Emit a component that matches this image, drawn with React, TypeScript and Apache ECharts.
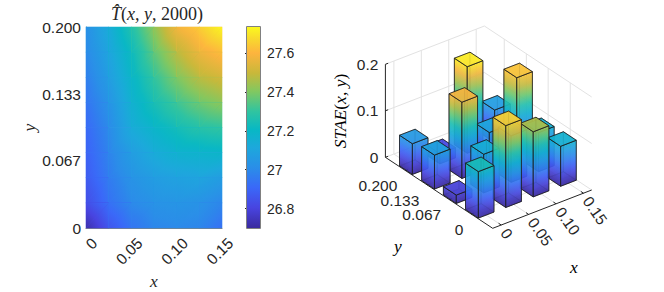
import React, { useEffect, useRef } from "react";
import * as echarts from "echarts";

// ---------- data ----------
const heatX = [0, 0.025, 0.05, 0.075, 0.1, 0.125, 0.15];
const heatY = [0.2, 0.175, 0.15, 0.125, 0.1, 0.075, 0.05, 0.025, 0];
const heatT = [
  [27.02, 27.13, 27.27, 27.42, 27.58, 27.65, 27.73],
  [27.0, 27.1, 27.22, 27.36, 27.48, 27.57, 27.62],
  [26.97, 27.07, 27.19, 27.3, 27.4, 27.48, 27.52],
  [26.94, 27.03, 27.16, 27.25, 27.32, 27.38, 27.42],
  [26.91, 27.0, 27.13, 27.19, 27.24, 27.28, 27.3],
  [26.89, 26.98, 27.07, 27.13, 27.17, 27.18, 27.19],
  [26.87, 26.96, 27.03, 27.07, 27.09, 27.1, 27.07],
  [26.83, 26.93, 27.0, 27.03, 27.04, 27.03, 26.99],
  [26.72, 26.85, 26.94, 26.99, 27.0, 26.99, 26.93],
];
const cbarMin = 26.7;
const cbarMax = 27.735;
const cbarTicks = [26.8, 27, 27.2, 27.4, 27.6];
const xTicks = [0, 0.05, 0.1, 0.15];
const xTickLabels = ["0", "0.05", "0.10", "0.15"];
const yTicks = [0, 0.067, 0.133, 0.2];
const yTickLabels = ["0", "0.067", "0.133", "0.200"];
const zTicks = [0, 0.1, 0.2];
const zTickLabels = ["0", "0.1", "0.2"];
// STAE[row for y][column for x]; rows follow yTicks, columns follow xTicks
const stae = [
  [0.1, 0.176, 0.14, 0.086],
  [0.018, 0.083, 0.1, 0.084],
  [0.073, 0.164, 0.076, 0.171],
  [0.066, 0.022, 0.186, 0.07],
];
const cmapStops: [number, string][] = [
  [0, "#3a2a9e"],
  [0.1, "#4844e0"],
  [0.2, "#3a68f8"],
  [0.3, "#2a8ee8"],
  [0.4, "#1da8dc"],
  [0.49, "#08b8c4"],
  [0.58, "#30c4a0"],
  [0.68, "#82c860"],
  [0.77, "#c8b83a"],
  [0.87, "#fdb43e"],
  [0.94, "#f8d82e"],
  [1, "#fbf91e"],
];

// ---------- helpers ----------
const SANS = "'Liberation Sans', Arial, sans-serif";
const SERIF = "'Liberation Serif', 'Times New Roman', serif";
const INK = "#262626";
const mathRich = {
  i: { fontFamily: SERIF, fontStyle: "italic", fontWeight: "normal", fontSize: 17.5, color: INK },
  n: { fontFamily: SERIF, fontWeight: "normal", fontSize: 17.5, color: INK },
};
const titleRich = {
  i: { ...mathRich.i, fontSize: 18 },
  n: { ...mathRich.n, fontSize: 18 },
};

function hex(c: string) {
  return [1, 3, 5].map((k) => parseInt(c.slice(k, k + 2), 16));
}
function cmap(t: number) {
  const u = Math.max(0, Math.min(1, t));
  for (let k = 1; k < cmapStops.length; k++) {
    if (u <= cmapStops[k][0]) {
      const [p0, c0] = cmapStops[k - 1];
      const [p1, c1] = cmapStops[k];
      const f = (u - p0) / (p1 - p0);
      const a = hex(c0);
      const b = hex(c1);
      return `rgb(${a.map((v, i) => Math.round(v + (b[i] - v) * f)).join(",")})`;
    }
  }
  return cmapStops[cmapStops.length - 1][1];
}
function ramp(t0: number, t1: number, n = 8) {
  const out = [];
  for (let k = 0; k <= n; k++) out.push({ offset: k / n, color: cmap(t0 + ((t1 - t0) * k) / n) });
  return out;
}
const norm = (v: number) => (v - cbarMin) / (cbarMax - cbarMin);

// parallel projection of the 3-D box on the page
const box = {
  F: [492.7, 228.3],
  A: [99, -38.3],
  B: [-107.3, -71],
  zScale: 465,
  xMin: -0.0155,
  xSpan: 0.1805,
  yMin: -0.065,
  ySpan: 0.3252,
  zTop: 0.19,
  barX: 0.0285,
  barY: 0.039,
};
function project(x: number, y: number, z: number): [number, number] {
  const a = (x - box.xMin) / box.xSpan;
  const b = (y - box.yMin) / box.ySpan;
  return [box.F[0] + a * box.A[0] + b * box.B[0], box.F[1] + a * box.A[1] + b * box.B[1] - z * box.zScale];
}

const xEdge = [box.xMin, box.xMin + box.xSpan];
const yEdge = [box.yMin, box.yMin + box.ySpan];

// one triangle of the shaded surface: the colour runs straight between its three corner values
function shadedTriangle(p: number[][], v: number[]) {
  const ux = p[1][0] - p[0][0];
  const uy = p[1][1] - p[0][1];
  const wx = p[2][0] - p[0][0];
  const wy = p[2][1] - p[0][1];
  const det = ux * wy - uy * wx;
  const du = v[1] - v[0];
  const dw = v[2] - v[0];
  const gx = (du * wy - dw * uy) / det;
  const gy = (dw * ux - du * wx) / det;
  const g = Math.hypot(gx, gy) || 1e-6;
  const dx = gx / g;
  const dy = gy / g;
  const along = p.map((q) => (q[0] - p[0][0]) * dx + (q[1] - p[0][1]) * dy);
  const lo = Math.min(...along);
  const hi = Math.max(...along);
  const fill = new echarts.graphic.LinearGradient(
    p[0][0] + dx * lo,
    p[0][1] + dy * lo,
    p[0][0] + dx * hi,
    p[0][1] + dy * hi,
    ramp(norm(v[0] + g * lo), norm(v[0] + g * hi), 5),
    true
  );
  return { type: "polygon", shape: { points: p }, style: { fill } };
}

function renderHeatCell(_: any, api: any) {
  const [x0, y0, x1, y1, v00, v10, v01, v11] = [0, 1, 2, 3, 4, 5, 6, 7].map((k) => api.value(k));
  const a = api.coord([x0, y0]);
  const b = api.coord([x1, y0]);
  const c = api.coord([x0, y1]);
  const d = api.coord([x1, y1]);
  return {
    type: "group",
    children: [
      {
        type: "rect",
        shape: { x: a[0] - 0.3, y: d[1] - 0.3, width: d[0] - a[0] + 0.6, height: a[1] - d[1] + 0.6 },
        style: { fill: cmap(norm((v00 + v10 + v01 + v11) / 4)) },
      },
      shadedTriangle([a, b, d], [v00, v10, v11]),
      shadedTriangle([a, d, c], [v00, v11, v01]),
    ],
  };
}

function renderColorbar(_: any, api: any) {
  const p0 = api.coord([0, api.value(0)]);
  const p1 = api.coord([1, api.value(1)]);
  return {
    type: "rect",
    shape: { x: p0[0], y: p1[1], width: p1[0] - p0[0], height: p0[1] - p1[1] },
    style: {
      fill: new echarts.graphic.LinearGradient(0, 1, 0, 0, cmapStops.map(([offset, color]) => ({ offset, color }))),
    },
  };
}

function seg(api: any, a: number[], b: number[], stroke: string, lineWidth = 1) {
  const p = api.coord(project(a[0], a[1], a[2]));
  const q = api.coord(project(b[0], b[1], b[2]));
  return { type: "line", shape: { x1: p[0], y1: p[1], x2: q[0], y2: q[1] }, style: { stroke, lineWidth } };
}

function renderFrame(_: any, api: any) {
  const grid = "#e2e2e2";
  const [xa, xb] = xEdge;
  const [ya, yb] = yEdge;
  const top = zTicks[zTicks.length - 1];
  const out: any[] = [];
  for (const x of xTicks) {
    out.push(seg(api, [x, ya, 0], [x, yb, 0], grid));
    out.push(seg(api, [x, yb, 0], [x, yb, top], grid));
  }
  for (const y of yTicks) {
    out.push(seg(api, [xa, y, 0], [xb, y, 0], grid));
    out.push(seg(api, [xb, y, 0], [xb, y, top], grid));
  }
  for (const z of zTicks) {
    out.push(seg(api, [xa, yb, z], [xb, yb, z], grid));
    out.push(seg(api, [xb, yb, z], [xb, ya, z], grid));
  }
  out.push(seg(api, [xa, yb, 0], [xa, yb, top], INK));
  out.push(seg(api, [xa, yb, 0], [xa, ya, 0], INK));
  out.push(seg(api, [xa, ya, 0], [xb, ya, 0], INK));
  for (const x of xTicks) out.push(seg(api, [x, ya, 0], [x, ya + 0.008, 0], INK));
  for (const y of yTicks) out.push(seg(api, [xa, y, 0], [xa + 0.005, y, 0], INK));
  for (const z of zTicks) out.push(seg(api, [xa, yb, z], [xa + 0.005, yb, z], INK));
  return { type: "group", children: out };
}

function faceFill(p: number[], q: number[], up: number[], hTop: number) {
  // gradient running across the lines of equal height of a slanted face
  const ex = q[0] - p[0];
  const ey = q[1] - p[1];
  const len2 = ex * ex + ey * ey;
  const d = (up[0] * ex + up[1] * ey) / len2;
  const nx = up[0] - d * ex;
  const ny = up[1] - d * ey;
  return new echarts.graphic.LinearGradient(p[0], p[1], p[0] + nx, p[1] + ny, ramp(0, hTop / box.zTop), true);
}

function renderBar(_: any, api: any) {
  const x = api.value(0);
  const y = api.value(1);
  const h = api.value(2);
  const hx = box.barX / 2;
  const hy = box.barY / 2;
  const pt = (sx: number, sy: number, z: number) => api.coord(project(x + sx * hx, y + sy * hy, z));
  const corners: [number, number][] = [
    [1, 1], // back
    [-1, 1], // left
    [1, -1], // right
    [-1, -1], // front
  ];
  const side = (a: [number, number], b: [number, number], opacity: number) => {
    const p0 = pt(a[0], a[1], 0);
    const q0 = pt(b[0], b[1], 0);
    const q1 = pt(b[0], b[1], h);
    const p1 = pt(a[0], a[1], h);
    return {
      type: "polygon",
      shape: { points: [p0, q0, q1, p1] },
      style: {
        fill: faceFill(p0, q0, [p1[0] - p0[0], p1[1] - p0[1]], h),
        fillOpacity: 0.72,
        stroke: "#1c1c1c",
        strokeOpacity: opacity,
        lineWidth: 1,
      },
    };
  };
  const [back, left, right, front] = corners;
  const flat = (z: number, color: string, opacity: number) => ({
    type: "polygon",
    shape: { points: [pt(back[0], back[1], z), pt(left[0], left[1], z), pt(front[0], front[1], z), pt(right[0], right[1], z)] },
    style: { fill: color, fillOpacity: 0.78, stroke: "#1c1c1c", strokeOpacity: opacity, lineWidth: 1 },
  });
  return {
    type: "group",
    children: [
      flat(0, cmap(0), 0.3),
      side(back, left, 0.3),
      side(right, back, 0.3),
      side(left, front, 0.8),
      side(front, right, 0.8),
      flat(h, cmap(h / box.zTop), 0.8),
    ],
  };
}

function renderLabels(_: any, api: any) {
  const font = `15.5px ${SANS}`;
  const out: any[] = [];
  const label = (pos: number[], text: string, align: string, rotation = 0) =>
    out.push({
      type: "text",
      x: pos[0],
      y: pos[1],
      rotation,
      style: { text, font, fill: INK, align, verticalAlign: "middle" },
    });
  xTicks.forEach((x, k) => {
    const p = api.coord(project(x, box.yMin, 0));
    label([p[0] + 3, p[1] + 5], xTickLabels[k], "left", (-55 * Math.PI) / 180);
  });
  yTicks.forEach((y, k) => {
    const p = api.coord(project(box.xMin, y, 0));
    label([p[0] - 8, p[1] + 15], yTickLabels[k], "right");
  });
  zTicks.forEach((z, k) => {
    const p = api.coord(project(box.xMin, box.yMin + box.ySpan, z));
    label([p[0] - 7, p[1]], zTickLabels[k], "right");
  });
  const nameAt = (xy: [number, number], text: string, rotation = 0) => {
    const p = api.coord(xy);
    out.push({
      type: "text",
      x: p[0],
      y: p[1],
      rotation,
      style: { text, rich: mathRich, align: "center", verticalAlign: "middle" },
    });
  };
  nameAt([574, 267], "{i|x}");
  nameAt([398, 246], "{i|y}");
  nameAt([340, 111], "{i|STAE}{n|(}{i|x, y}{n|)}", Math.PI / 2);
  return { type: "group", children: out };
}

// ---------- series data built from the tables ----------
const heatCells: number[][] = [];
for (let r = 0; r + 1 < heatY.length; r++) {
  for (let c = 0; c + 1 < heatX.length; c++) {
    heatCells.push([heatX[c], heatY[r + 1], heatX[c + 1], heatY[r], heatT[r + 1][c], heatT[r + 1][c + 1], heatT[r][c], heatT[r][c + 1]]);
  }
}
const barCells: number[][] = [];
for (let j = yTicks.length - 1; j >= 0; j--) {
  for (let i = xTicks.length - 1; i >= 0; i--) {
    barCells.push([xTicks[i], yTicks[j], stae[j][i]]);
  }
}

const tickFont = { color: INK, fontFamily: SANS, fontSize: 15.5 };
const mutedLine = { show: true, lineStyle: { color: "#808080", width: 1 } };

const option: any = {
  animation: false,
  backgroundColor: "#ffffff",
  title: {
    text: "{i|T\u0302}{n|(}{i|x, y}{n|, 2000)}",
    left: 152,
    top: 0,
    textAlign: "center",
    textStyle: { fontWeight: "normal", rich: titleRich },
  },
  grid: [
    { left: 86, top: 27, width: 136, height: 201, outerBoundsMode: "none" },
    { left: 247, top: 27, width: 13, height: 201, outerBoundsMode: "none" },
    { left: 0, top: 0, width: 664, height: 292, outerBoundsMode: "none" },
  ],
  xAxis: [
    {
      gridIndex: 0,
      type: "value",
      min: 0,
      max: 0.15,
      splitLine: { show: false },
      axisLine: mutedLine,
      axisTick: { show: false },
      axisLabel: {
        ...tickFont,
        customValues: xTicks,
        rotate: 45,
        margin: 21,
        padding: [0, -12, 0, 0],
        formatter: (v: number) => xTickLabels[xTicks.indexOf(v)],
      },
      name: "x",
      nameLocation: "middle",
      nameGap: 44,
      nameMoveOverlap: false,
      nameTextStyle: { fontFamily: SERIF, fontStyle: "italic", fontSize: 17.5, color: INK },
    },
    { gridIndex: 1, type: "value", min: 0, max: 1, show: false },
    { gridIndex: 2, type: "value", min: 0, max: 664, show: false },
  ],
  yAxis: [
    {
      gridIndex: 0,
      type: "value",
      min: 0,
      max: 0.2,
      splitLine: { show: false },
      axisLine: mutedLine,
      axisTick: { show: false },
      axisLabel: {
        ...tickFont,
        customValues: yTicks,
        margin: 5,
        formatter: (v: number) => yTickLabels[yTicks.indexOf(v)],
      },
      name: "y",
      nameLocation: "middle",
      nameGap: 48,
      nameMoveOverlap: false,
      nameTextStyle: { fontFamily: SERIF, fontStyle: "italic", fontSize: 17.5, color: INK },
    },
    {
      gridIndex: 1,
      type: "value",
      position: "right",
      min: cbarMin,
      max: cbarMax,
      splitLine: { show: false },
      axisLine: { show: false },
      axisTick: { show: true, inside: true, length: 2, customValues: cbarTicks, lineStyle: { color: INK } },
      axisLabel: {
        color: INK,
        fontFamily: SANS,
        fontSize: 14,
        customValues: cbarTicks,
        margin: 7,
        formatter: (v: number) => String(v),
      },
    },
    { gridIndex: 2, type: "value", min: 0, max: 292, inverse: true, show: false },
  ],
  series: [
    { type: "custom", xAxisIndex: 0, yAxisIndex: 0, data: heatCells, renderItem: renderHeatCell, silent: true, clip: false },
    {
      type: "custom",
      xAxisIndex: 1,
      yAxisIndex: 1,
      data: [[cbarMin, cbarMax]],
      encode: { y: [0, 1] },
      renderItem: renderColorbar,
      silent: true,
      clip: false,
    },
    { type: "custom", xAxisIndex: 2, yAxisIndex: 2, data: [[0, 0]], renderItem: renderFrame, silent: true, clip: false },
    { type: "custom", xAxisIndex: 2, yAxisIndex: 2, data: barCells, renderItem: renderBar, silent: true, clip: false },
    { type: "custom", xAxisIndex: 2, yAxisIndex: 2, data: [[0, 0]], renderItem: renderLabels, silent: true, clip: false },
  ],
  graphic: [
    {
      type: "rect",
      silent: true,
      z: 10,
      shape: { x: 246.5, y: 26.5, width: 14, height: 202 },
      style: { fill: "none", stroke: "#808080", lineWidth: 1 },
    },
  ],
};

export default function App() {
  const ref = useRef<HTMLDivElement>(null);
  useEffect(() => {
    const chart = echarts.init(ref.current!, undefined, { renderer: "svg" });
    chart.setOption(option);
    return () => chart.dispose();
  }, []);
  return <div ref={ref} style={{ position: "absolute", left: 0, top: 0, width: 664, height: 292 }} />;
}
